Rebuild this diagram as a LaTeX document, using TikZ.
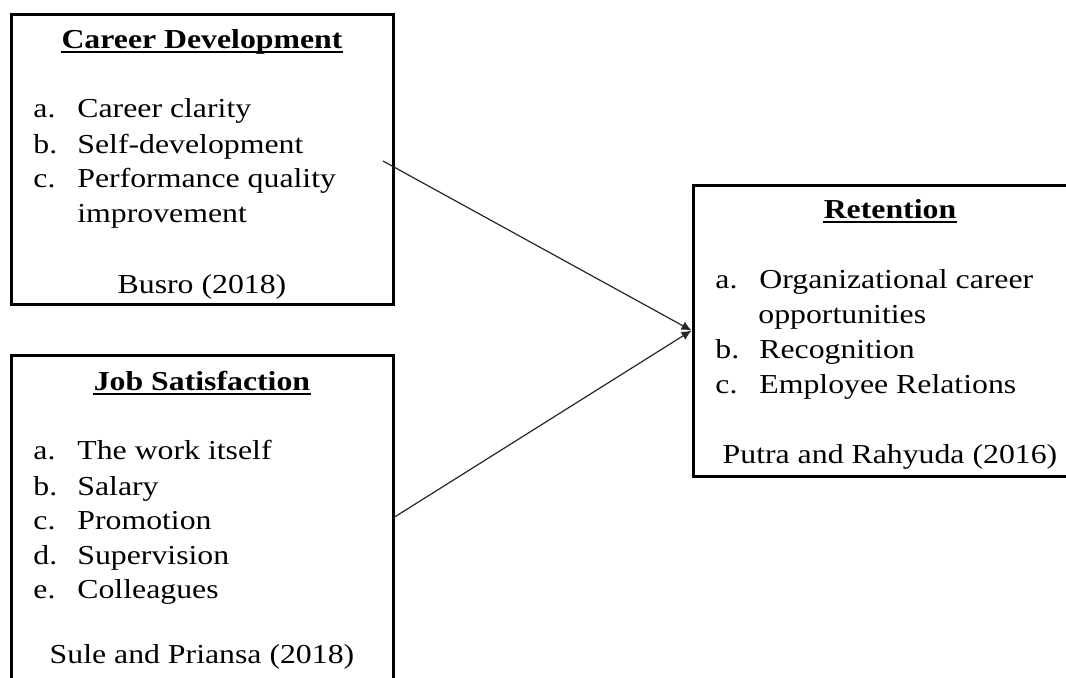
\documentclass[tikz,border=0pt]{standalone}
\usepackage{fontspec}
\setmainfont{Liberation Serif}[FakeStretch=1.16]
\usetikzlibrary{arrows.meta}

\tikzset{
  box/.style={draw, line width=1.5pt, rectangle, inner sep=0pt},
  txt/.style={inner sep=0pt, font=\fontsize{13.7}{16}\selectfont},
  item/.style={txt, anchor=base west},
  head/.style={txt, anchor=base, font=\fontsize{13.7}{16}\selectfont\bfseries},
  uline/.style={line width=0.9pt},
  link/.style={line width=0.6pt, black!85, -{Latex[length=5pt,width=4.5pt]}}
}
\newcommand{\lbl}[1]{\makebox[22pt][l]{#1}}

\begin{document}
\begin{tikzpicture}[x=0.5pt, y=-0.5pt]
        \useasboundingbox (0,0) rectangle (1066,677);
        \clip (0,0) rectangle (1066,677);
        % the three boxes
        \node[box, minimum width=191pt, minimum height=145pt] (cd) at (202,159) {};
        \node[box, minimum width=191pt, minimum height=182.5pt] (js) at (202,537.5) {};
        \node[box, minimum width=197pt, minimum height=145.5pt] (ret) at (890,330.5) {};
        % career development
        \node[head] (cdt) at (202,48) {Career Development};
        \draw[uline] ([yshift=-2pt]cdt.base west) -- ([yshift=-2pt]cdt.base east);
        \node[item] (cd1) at (33,117) {\lbl{a.}Career clarity};
        \node[item] (cd2) at (33,153) {\lbl{b.}Self-development};
        \node[item] (cd3) at (33,187) {\lbl{c.}Performance quality};
        \node[item] (cd3b) at (77,222) {improvement};
        \node[txt, anchor=base] (cds) at (202,293) {Busro (2018)};
        % job satisfaction
        \node[head] (jst) at (202,390) {Job Satisfaction};
        \draw[uline] ([yshift=-2pt]jst.base west) -- ([yshift=-2pt]jst.base east);
        \node[item] (js1) at (33,459) {\lbl{a.}The work itself};
        \node[item] (js2) at (33,495) {\lbl{b.}Salary};
        \node[item] (js3) at (33,529) {\lbl{c.}Promotion};
        \node[item] (js4) at (33,564) {\lbl{d.}Supervision};
        \node[item] (js5) at (33,598) {\lbl{e.}Colleagues};
        \node[txt, anchor=base] (jss) at (202,663) {Sule and Priansa (2018)};
        % retention
        \node[head] (rett) at (890,218) {Retention};
        \draw[uline] ([yshift=-2pt]rett.base west) -- ([yshift=-2pt]rett.base east);
        \node[item] (ret1) at (715,288) {\lbl{a.}Organizational career};
        \node[item] (ret1b) at (758,323) {opportunities};
        \node[item] (ret2) at (715,358) {\lbl{b.}Recognition};
        \node[item] (ret3) at (715,393) {\lbl{c.}Employee Relations};
        \node[txt, anchor=base] (rets) at (890,463) {Putra and Rahyuda (2016)};
        % links
        \coordinate (cdout) at (383,161);
        \coordinate (jsout) at (393,518);
        \draw[link] (cdout) -- (ret.west);
        \draw[link] (jsout) -- (ret.west);
\end{tikzpicture}
\end{document}
